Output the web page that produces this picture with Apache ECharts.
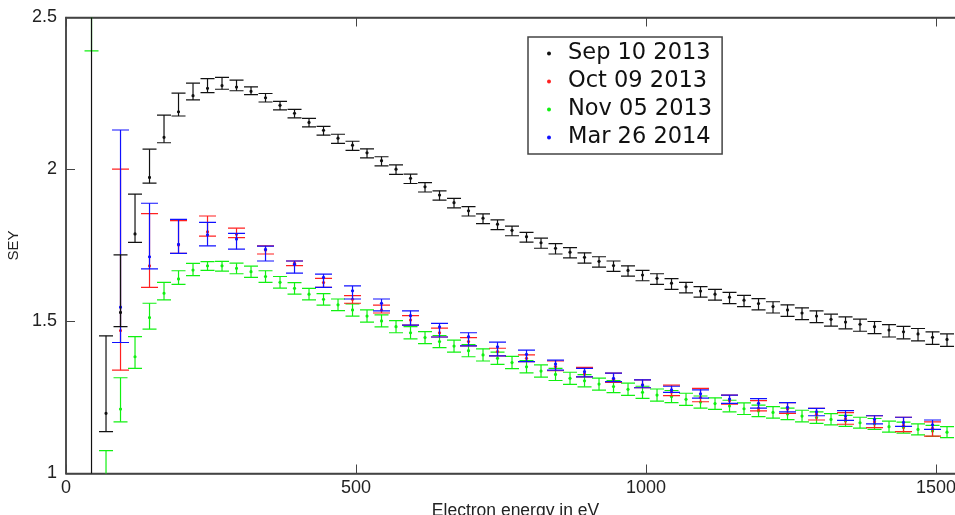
<!DOCTYPE html>
<html>
<head>
<meta charset="utf-8">
<title>SEY</title>
<script src="https://cdn.jsdelivr.net/npm/echarts@6/dist/echarts.min.js"></script>
<style>
    html, body { margin: 0; padding: 0; background: #fff; overflow: hidden; }
    #chart-wrapper { width: 955px; height: 515px; }
</style>
</head>
<body>
<div id="chart-wrapper"></div>
<script>
'use strict'

// energies (eV): every 25 eV for Sep/Nov, every 50 eV for Oct/Mar
var energy25 = [44, 69, 94, 119, 144, 169, 194, 219, 244, 269,
    294, 319, 344, 369, 394, 419, 444, 469, 494, 519,
    544, 569, 594, 619, 644, 669, 694, 719, 744, 769,
    794, 819, 844, 869, 894, 919, 944, 969, 994, 1019,
    1044, 1069, 1094, 1119, 1144, 1169, 1194, 1219, 1244, 1269,
    1294, 1319, 1344, 1369, 1394, 1419, 1444, 1469, 1494, 1519];
var energy50 = [94, 144, 194, 244, 294, 344, 394, 444, 494, 544,
    594, 644, 694, 744, 794, 844, 894, 944, 994, 1044,
    1094, 1144, 1194, 1244, 1294, 1344, 1394, 1444, 1494];

// Sep 10 2013
var sepVal = [2.6, 1.198, 1.530, 1.788, 1.974, 2.106, 2.190, 2.243, 2.267, 2.276,
    2.271, 2.257, 2.236, 2.211, 2.185, 2.155, 2.129, 2.103, 2.080, 2.055,
    2.029, 2.001, 1.971, 1.943, 1.916, 1.891, 1.864, 1.840, 1.820, 1.800,
    1.779, 1.759, 1.741, 1.728, 1.711, 1.698, 1.684, 1.668, 1.653, 1.642,
    1.626, 1.614, 1.600, 1.590, 1.580, 1.570, 1.559, 1.549, 1.538, 1.528,
    1.518, 1.507, 1.498, 1.491, 1.483, 1.472, 1.466, 1.459, 1.448, 1.441];
var sepLo = [0.5, 1.138, 1.483, 1.760, 1.955, 2.088, 2.176, 2.229, 2.253, 2.264,
    2.259, 2.246, 2.222, 2.196, 2.170, 2.140, 2.113, 2.086, 2.063, 2.038,
    2.012, 1.984, 1.954, 1.926, 1.899, 1.874, 1.847, 1.822, 1.802, 1.782,
    1.761, 1.741, 1.722, 1.709, 1.692, 1.679, 1.665, 1.649, 1.634, 1.622,
    1.606, 1.594, 1.580, 1.570, 1.559, 1.549, 1.538, 1.528, 1.517, 1.506,
    1.496, 1.485, 1.476, 1.468, 1.460, 1.449, 1.443, 1.436, 1.425, 1.418];
var sepHi = [3.5, 1.453, 1.719, 1.919, 2.067, 2.179, 2.251, 2.284, 2.299, 2.303,
    2.294, 2.272, 2.250, 2.224, 2.198, 2.168, 2.142, 2.116, 2.093, 2.068,
    2.042, 2.015, 1.985, 1.957, 1.930, 1.905, 1.878, 1.854, 1.834, 1.814,
    1.793, 1.774, 1.756, 1.743, 1.726, 1.713, 1.699, 1.683, 1.668, 1.657,
    1.641, 1.629, 1.615, 1.606, 1.596, 1.586, 1.575, 1.565, 1.555, 1.545,
    1.535, 1.524, 1.515, 1.508, 1.500, 1.490, 1.484, 1.477, 1.466, 1.459];

// Oct 09 2013
var octVal = [1.470, 1.683, 1.752, 1.795, 1.787, 1.735, 1.692, 1.628, 1.573, 1.538,
    1.505, 1.463, 1.434, 1.401, 1.379, 1.352, 1.327, 1.310, 1.292, 1.268,
    1.250, 1.240, 1.214, 1.212, 1.195, 1.180, 1.170, 1.158, 1.149];
var octLo = [1.340, 1.612, 1.724, 1.781, 1.776, 1.722, 1.684, 1.612, 1.560, 1.528,
    1.488, 1.449, 1.420, 1.387, 1.368, 1.338, 1.318, 1.300, 1.282, 1.256,
    1.236, 1.228, 1.206, 1.198, 1.176, 1.162, 1.151, 1.138, 1.123];
var octHi = [2.001, 1.855, 1.832, 1.847, 1.807, 1.749, 1.699, 1.642, 1.585, 1.554,
    1.519, 1.478, 1.447, 1.412, 1.390, 1.370, 1.349, 1.330, 1.308, 1.291,
    1.280, 1.258, 1.240, 1.233, 1.214, 1.200, 1.190, 1.185, 1.170];

// Nov 05 2013 (first point sits above the frame, only its lower cap shows)
var novVal = [2.6, 0.95, 1.212, 1.384, 1.513, 1.593, 1.640, 1.669, 1.683, 1.683,
    1.675, 1.664, 1.648, 1.629, 1.609, 1.590, 1.573, 1.555, 1.538, 1.518,
    1.502, 1.483, 1.463, 1.447, 1.434, 1.419, 1.404, 1.390, 1.379, 1.365,
    1.351, 1.337, 1.326, 1.313, 1.305, 1.294, 1.286, 1.277, 1.267, 1.258,
    1.253, 1.244, 1.235, 1.230, 1.222, 1.213, 1.206, 1.201, 1.196, 1.189,
    1.184, 1.178, 1.173, 1.167, 1.163, 1.154, 1.151, 1.145, 1.140, 1.136];
var novLo = [2.39, 0.85, 1.170, 1.346, 1.475, 1.571, 1.622, 1.651, 1.668, 1.666,
    1.657, 1.645, 1.629, 1.610, 1.590, 1.571, 1.554, 1.536, 1.518, 1.498,
    1.482, 1.463, 1.443, 1.427, 1.414, 1.399, 1.384, 1.370, 1.359, 1.345,
    1.331, 1.317, 1.306, 1.293, 1.285, 1.274, 1.266, 1.257, 1.247, 1.238,
    1.233, 1.224, 1.215, 1.211, 1.203, 1.194, 1.187, 1.182, 1.177, 1.170,
    1.165, 1.160, 1.155, 1.149, 1.145, 1.136, 1.133, 1.127, 1.122, 1.118];
var novHi = [2.8, 1.075, 1.315, 1.450, 1.560, 1.629, 1.667, 1.691, 1.697, 1.698,
    1.692, 1.682, 1.667, 1.648, 1.628, 1.609, 1.592, 1.574, 1.558, 1.538,
    1.522, 1.503, 1.483, 1.467, 1.454, 1.439, 1.424, 1.410, 1.399, 1.385,
    1.371, 1.357, 1.346, 1.333, 1.325, 1.314, 1.306, 1.297, 1.287, 1.278,
    1.273, 1.264, 1.255, 1.249, 1.241, 1.232, 1.225, 1.220, 1.215, 1.208,
    1.203, 1.197, 1.191, 1.185, 1.181, 1.172, 1.169, 1.163, 1.158, 1.154];

// Mar 26 2014
var marVal = [1.547, 1.713, 1.754, 1.785, 1.771, 1.737, 1.688, 1.645, 1.601, 1.560,
    1.519, 1.482, 1.450, 1.417, 1.392, 1.360, 1.335, 1.313, 1.291, 1.275,
    1.262, 1.245, 1.231, 1.218, 1.203, 1.189, 1.178, 1.168, 1.160];
var marLo = [1.431, 1.673, 1.724, 1.749, 1.738, 1.699, 1.659, 1.612, 1.574, 1.535,
    1.488, 1.449, 1.420, 1.387, 1.368, 1.340, 1.318, 1.302, 1.282, 1.267,
    1.248, 1.231, 1.215, 1.203, 1.190, 1.175, 1.163, 1.155, 1.145];
var marHi = [2.130, 1.889, 1.836, 1.826, 1.790, 1.748, 1.699, 1.656, 1.617, 1.574,
    1.535, 1.494, 1.463, 1.432, 1.406, 1.373, 1.346, 1.330, 1.308, 1.287,
    1.275, 1.258, 1.246, 1.233, 1.214, 1.207, 1.190, 1.185, 1.176];

var seriesNames = ['Sep 10 2013', 'Oct 09 2013', 'Nov 05 2013', 'Mar 26 2014'];

function buildData(xs, vals, los, his) {
    var out = [];
    for (var i = 0; i < xs.length; i++) {
        out.push([xs[i], vals[i], los[i], his[i]]);
    }
    return out;
}

// draws one point with its error bar and caps
function errorBar(color, capHalf) {
    return function (params, api) {
        var x = api.value(0);
        var p = api.coord([x, api.value(1)]);
        var lo = api.coord([x, api.value(2)]);
        var hi = api.coord([x, api.value(3)]);
        var st = { stroke: color, lineWidth: 1.2, fill: null };
        return {
            type: 'group',
            children: [
                { type: 'line', shape: { x1: hi[0], y1: hi[1], x2: lo[0], y2: lo[1] }, style: st },
                { type: 'line', shape: { x1: hi[0] - capHalf, y1: hi[1], x2: hi[0] + capHalf, y2: hi[1] }, style: st },
                { type: 'line', shape: { x1: lo[0] - capHalf, y1: lo[1], x2: lo[0] + capHalf, y2: lo[1] }, style: st },
                { type: 'circle', shape: { cx: p[0], cy: p[1], r: 1.6 }, style: { fill: color, stroke: null } }
            ]
        };
    };
}

function makeSeries(name, color, capHalf, z, data) {
    return {
        name: name,
        type: 'custom',
        clip: true,
        z: z,
        itemStyle: { color: color },
        renderItem: errorBar(color, capHalf),
        encode: { x: 0, y: [1, 2, 3] },
        data: data
    };
}

function plainNumber(v) {
    return String(v);
}

var myChart = echarts.init(document.getElementById('chart-wrapper'), null, { renderer: 'canvas' });

var axisFont = 'Liberation Sans';
var option = {
    animation: false,
    backgroundColor: '#fff',
    grid: {
        left: 66,
        top: 17.5,
        width: 899,
        bottom: 41.5,
        outerBoundsMode: 'none',
        containLabel: false,
        show: true,
        borderColor: '#444',
        borderWidth: 1.5
    },
    legend: {
        orient: 'vertical',
        left: 528,
        top: 37,
        data: seriesNames,
        icon: 'circle',
        itemWidth: 4,
        itemHeight: 4,
        itemGap: 5,
        padding: [5, 10, 5, 19],
        backgroundColor: '#fff',
        borderColor: '#444',
        borderWidth: 1.5,
        selectedMode: false,
        textStyle: {
            fontFamily: 'DejaVu Sans',
            fontSize: 22.5,
            color: '#111',
            padding: [0, 0, 0, 12]
        }
    },
    xAxis: [
        {
            type: 'value',
            min: 0,
            max: 1550,
            interval: 500,
            name: 'Electron energy in eV',
            nameLocation: 'middle',
            nameGap: 24,
            nameTextStyle: { fontFamily: axisFont, fontSize: 17.5, color: '#222' },
            axisLine: { show: true, lineStyle: { color: '#444', width: 1.5 } },
            axisTick: { inside: true, length: 9, lineStyle: { color: '#444' } },
            axisLabel: { fontFamily: axisFont, fontSize: 18, color: '#222', margin: 6, formatter: plainNumber },
            splitLine: { show: false }
        },
        {
            type: 'value',
            position: 'top',
            min: 0,
            max: 1550,
            interval: 500,
            axisLine: { show: true, lineStyle: { color: '#444', width: 1.5 } },
            axisTick: { inside: true, length: 9, lineStyle: { color: '#444' } },
            axisLabel: { show: false },
            splitLine: { show: false }
        }
    ],
    yAxis: [
        {
            type: 'value',
            min: 1,
            max: 2.5,
            interval: 0.5,
            name: 'SEY',
            nameLocation: 'middle',
            nameGap: 38,
            nameTextStyle: { fontFamily: axisFont, fontSize: 15, color: '#222' },
            axisLine: { show: true, lineStyle: { color: '#444', width: 1.5 } },
            axisTick: { inside: true, length: 9, lineStyle: { color: '#444' } },
            axisLabel: { fontFamily: axisFont, fontSize: 18, color: '#222', margin: 9 },
            splitLine: { show: false }
        }
    ],
    series: [
        makeSeries(seriesNames[0], '#111111', 7, 5, buildData(energy25, sepVal, sepLo, sepHi)),
        makeSeries(seriesNames[1], '#ff2020', 8.5, 3, buildData(energy50, octVal, octLo, octHi)),
        makeSeries(seriesNames[2], '#10f010', 7, 2, buildData(energy25, novVal, novLo, novHi)),
        makeSeries(seriesNames[3], '#1010ff', 8.5, 4, buildData(energy50, marVal, marLo, marHi))
    ]
};
myChart.setOption(option);
</script>
</body>
</html>
